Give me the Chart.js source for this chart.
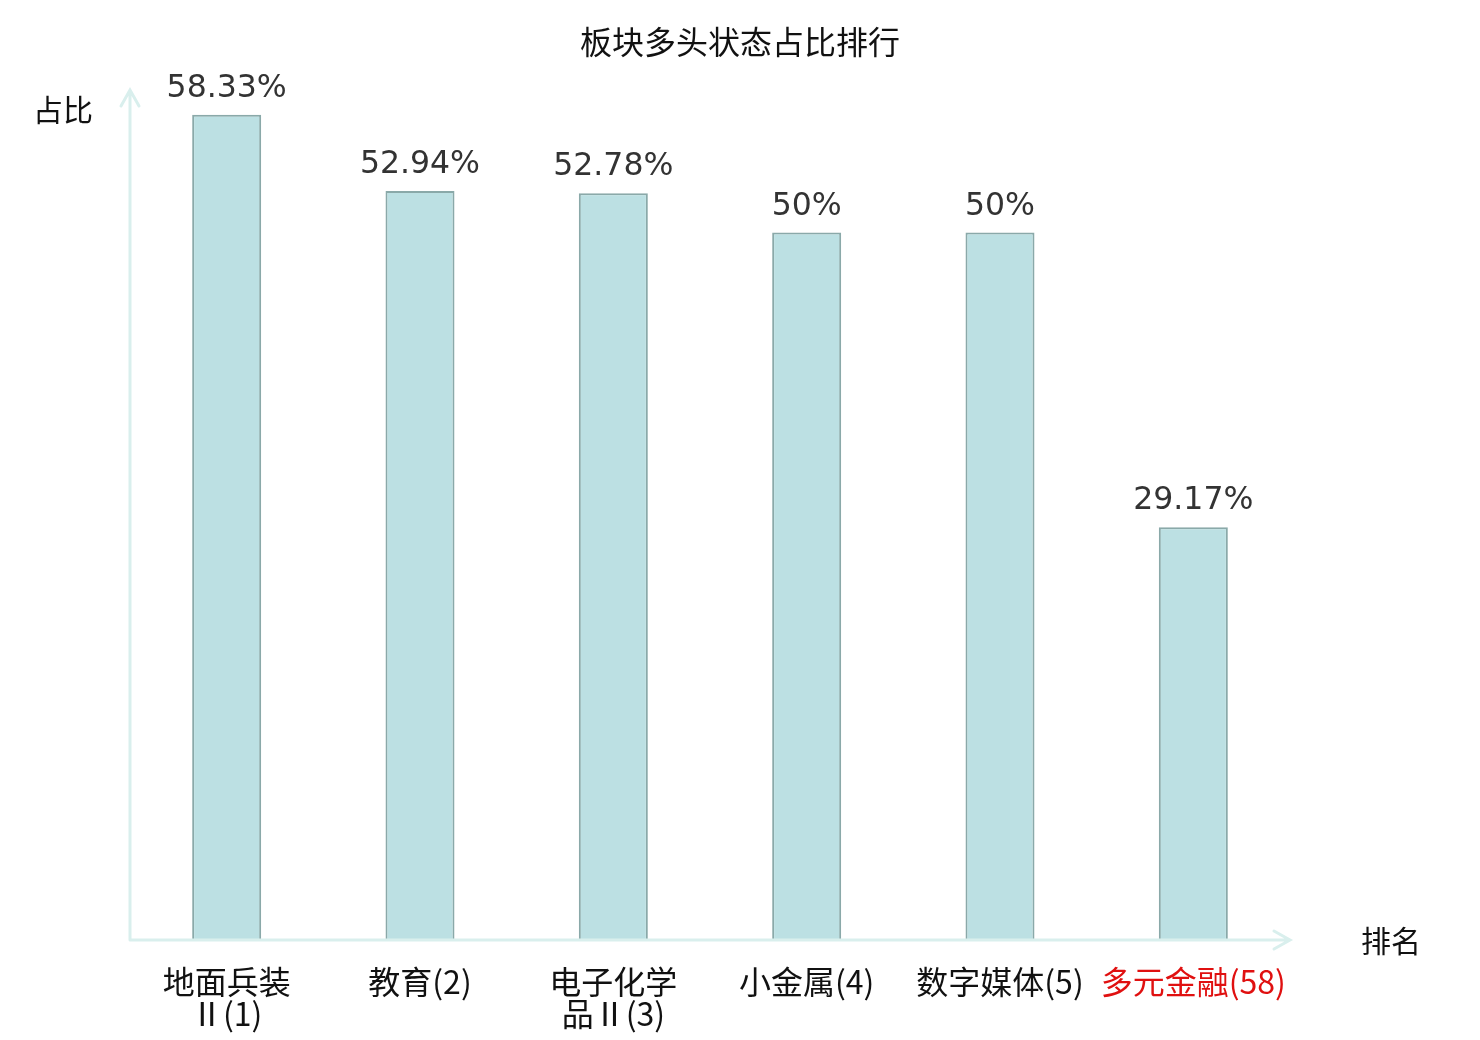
<!DOCTYPE html>
<html>
<head>
<meta charset="utf-8">
<script src="https://cdn.jsdelivr.net/npm/chart.js@4.4.1/dist/chart.umd.min.js"></script>
<style>
  html, body { margin: 0; padding: 0; background: #fff; }
  #wrap { width: 1480px; height: 1040px; }
</style>
</head>
<body>
<div id="wrap"><canvas id="rankChart" width="1480" height="1040"></canvas></div>
<script>
// categories (multi-line labels) and values in percent
const categories = [
  ['地面兵装', 'Ⅱ(1)'],
  ['教育(2)'],
  ['电子化学', '品Ⅱ(3)'],
  ['小金属(4)'],
  ['数字媒体(5)'],
  ['多元金融(58)']
];
const ratios = [58.33, 52.94, 52.78, 50, 50, 29.17];
const ratioLabels = ['58.33%', '52.94%', '52.78%', '50%', '50%', '29.17%'];
const tickColors = ['#111', '#111', '#111', '#111', '#111', '#e01010'];

const titleText = '板块多头状态占比排行';
const yName = '占比';
const xName = '排名';

const cjk = '"Noto Sans CJK SC", "Noto Sans", sans-serif';
const axisColor = '#d9efed';

// draws title, axis names, arrowed axes and value labels
const decorPlugin = {
  id: 'decor',
  afterDatasetsDraw(chart) {
    const ctx = chart.ctx;
    const area = chart.chartArea;
    ctx.save();

    // axes with arrows
    ctx.strokeStyle = axisColor;
    ctx.lineWidth = 3;
    ctx.lineCap = 'round';
    ctx.beginPath();
    ctx.moveTo(area.left, area.bottom);
    ctx.lineTo(area.left, area.top - 1);
    ctx.moveTo(area.left - 9, area.top + 15);
    ctx.lineTo(area.left, area.top - 1);
    ctx.lineTo(area.left + 9, area.top + 15);
    ctx.moveTo(area.left, area.bottom);
    ctx.lineTo(area.right, area.bottom);
    ctx.moveTo(area.right - 16, area.bottom - 9);
    ctx.lineTo(area.right, area.bottom);
    ctx.lineTo(area.right - 16, area.bottom + 9);
    ctx.stroke();

    // title
    ctx.fillStyle = '#111';
    ctx.textAlign = 'center';
    ctx.textBaseline = 'middle';
    ctx.font = '32px ' + cjk;
    ctx.fillText(titleText, chart.width / 2, 42);

    // axis names
    ctx.font = '30px ' + cjk;
    ctx.fillText(yName, 63, 110);
    ctx.fillText(xName, 1391, 941);

    // value labels
    ctx.fillStyle = '#333';
    ctx.font = '31.5px "DejaVu Sans", sans-serif';
    ctx.textBaseline = 'alphabetic';
    const meta = chart.getDatasetMeta(0);
    meta.data.forEach((bar, i) => {
      ctx.fillText(ratioLabels[i], bar.x, bar.y - 18);
    });
    ctx.restore();
  }
};

new Chart(document.getElementById('rankChart'), {
  type: 'bar',
  data: {
    labels: categories,
    datasets: [{
      data: ratios,
      backgroundColor: '#bce0e3',
      borderColor: '#8aa9a9',
      borderWidth: 2,
      barPercentage: 0.357,
      categoryPercentage: 1
    }]
  },
  options: {
    responsive: false,
    animation: false,
    layout: { padding: { left: 130, right: 190, top: 91, bottom: 5 } },
    plugins: {
      legend: { display: false },
      title: { display: false },
      tooltip: { enabled: false }
    },
    scales: {
      x: {
        grid: { display: false },
        border: { display: false },
        afterFit(scale) {
          scale.height = 95;
        },
        ticks: {
          color: tickColors,
          padding: 18,
          maxRotation: 0,
          autoSkip: false,
          font: { family: cjk, size: 32, lineHeight: 1.0 }
        }
      },
      y: {
        display: false,
        min: 0,
        max: 60
      }
    }
  },
  plugins: [decorPlugin]
});
</script>
</body>
</html>
